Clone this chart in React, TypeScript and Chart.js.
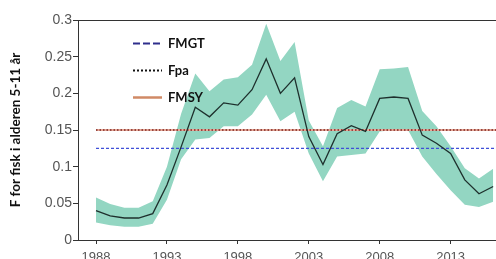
import React, { useEffect, useRef } from "react";
import { Chart, registerables } from "chart.js";

Chart.register(...registerables);

// ---------- data ----------
const years = [
  1988, 1989, 1990, 1991, 1992, 1993, 1994, 1995, 1996, 1997,
  1998, 1999, 2000, 2001, 2002, 2003, 2004, 2005, 2006, 2007,
  2008, 2009, 2010, 2011, 2012, 2013, 2014, 2015, 2016,
];
const fValues = [
  0.040, 0.033, 0.030, 0.030, 0.036, 0.075, 0.127, 0.181, 0.168, 0.187,
  0.184, 0.205, 0.247, 0.200, 0.221, 0.141, 0.103, 0.145, 0.156, 0.148,
  0.193, 0.195, 0.193, 0.143, 0.132, 0.118, 0.082, 0.063, 0.073,
];
const upperCI = [
  0.058, 0.049, 0.044, 0.044, 0.053, 0.100, 0.172, 0.227, 0.203, 0.219,
  0.222, 0.239, 0.295, 0.244, 0.270, 0.163, 0.128, 0.180, 0.191, 0.182,
  0.233, 0.234, 0.236, 0.176, 0.155, 0.128, 0.098, 0.084, 0.097,
];
const lowerCI = [
  0.024, 0.020, 0.018, 0.018, 0.022, 0.055, 0.110, 0.137, 0.139, 0.155,
  0.155, 0.171, 0.198, 0.162, 0.175, 0.118, 0.080, 0.114, 0.116, 0.118,
  0.148, 0.150, 0.150, 0.114, 0.090, 0.068, 0.048, 0.045, 0.052,
];
const refYears = [1988, 2017];
const fmgtValue = 0.125;
const fpaValue = 0.15;
const fmsyValue = 0.15;
const legendLabels = ["FMGT", "Fpa", "FMSY"];
const xTickValues = [1988, 1993, 1998, 2003, 2008, 2013];
const yTitle = "F for fisk i alderen 5-11 år";

// ---------- styles ----------
const legendStyles: Record<string, { color: string; dash: number[]; width: number }> = {
  FMGT: { color: "#2e2e8c", dash: [7, 3], width: 2 },
  Fpa: { color: "#111111", dash: [2, 2], width: 2 },
  FMSY: { color: "#d08a66", dash: [], width: 2.5 },
};

const insideLegend = {
  id: "insideLegend",
  afterDraw(chart: any) {
    const { ctx, chartArea } = chart;
    const x0 = chartArea.left + 55;
    const y0 = chartArea.top + 23.5;
    const gap = 27;
    ctx.save();
    legendLabels.forEach((label, i) => {
      const st = legendStyles[label];
      const y = y0 + i * gap;
      ctx.beginPath();
      ctx.setLineDash(st.dash);
      ctx.strokeStyle = st.color;
      ctx.lineWidth = st.width;
      ctx.moveTo(x0, y);
      ctx.lineTo(x0 + 29, y);
      ctx.stroke();
      ctx.setLineDash([]);
      ctx.fillStyle = "#111";
      ctx.font = "bold 13px Lato";
      ctx.textBaseline = "middle";
      ctx.textAlign = "left";
      ctx.fillText(label, x0 + 35, y);
    });
    ctx.restore();
  },
};

const topBorder = {
  id: "topBorder",
  afterDraw(chart: any) {
    const { ctx, chartArea } = chart;
    ctx.save();
    ctx.strokeStyle = "#333";
    ctx.lineWidth = 1;
    ctx.beginPath();
    ctx.moveTo(chartArea.left, chartArea.top + 0.5);
    ctx.lineTo(chartArea.right, chartArea.top + 0.5);
    ctx.stroke();
    ctx.restore();
  },
};

export default function App() {
  const ref = useRef<HTMLCanvasElement | null>(null);

  useEffect(() => {
    if (!ref.current) return;
    const pts = (vals: number[]) => years.map((y, i) => ({ x: y, y: vals[i] }));
    const ref2 = (v: number) => refYears.map((y) => ({ x: y, y: v }));
    const chart = new Chart(ref.current, {
      type: "line",
      data: {
        datasets: [
          {
            label: "upper",
            data: pts(upperCI),
            borderWidth: 0,
            pointRadius: 0,
            backgroundColor: "#93d6c2",
            fill: "+1",
            order: 6,
          },
          {
            label: "lower",
            data: pts(lowerCI),
            borderWidth: 0,
            pointRadius: 0,
            fill: false,
            order: 7,
          },
          {
            label: "F",
            data: pts(fValues),
            borderColor: "#1e302d",
            borderWidth: 1.3,
            pointRadius: 0,
            fill: false,
            order: 0,
          },
          {
            label: legendLabels[0],
            data: ref2(fmgtValue),
            borderColor: "#3f4fd8",
            borderDash: [3, 2],
            borderWidth: 1.2,
            pointRadius: 0,
            fill: false,
            order: 3,
          },
          {
            label: legendLabels[1],
            data: ref2(fpaValue),
            borderColor: "#7a2424",
            borderDash: [1.5, 2],
            borderWidth: 1.5,
            pointRadius: 0,
            fill: false,
            order: 1,
          },
          {
            label: legendLabels[2],
            data: ref2(fmsyValue),
            borderColor: "#e6a896",
            borderWidth: 2,
            pointRadius: 0,
            fill: false,
            order: 2,
          },
        ],
      },
      options: {
        responsive: false,
        animation: false,
        devicePixelRatio: 1,
        layout: { padding: { left: 0, top: 20, right: 0, bottom: 0 } },
        plugins: {
          legend: { display: false },
          tooltip: { enabled: false },
        },
        elements: { line: { tension: 0 } },
        scales: {
          x: {
            type: "linear",
            min: 1986.73,
            max: 2016.2,
            afterBuildTicks: (scale: any) => {
              scale.ticks = xTickValues.map((v) => ({ value: v }));
            },
            afterFit: (scale: any) => {
              scale.height = 19;
            },
            ticks: {
              color: "#555",
              font: { family: "Liberation Sans", size: 13 },
              padding: 6,
              maxRotation: 0,
              autoSkip: false,
              callback: (v: any) => String(v),
            },
            grid: {
              drawOnChartArea: false,
              drawTicks: true,
              tickLength: 4,
              color: "#333",
            },
            border: { display: true, color: "#333", width: 1 },
          },
          y: {
            min: 0,
            max: 0.3,
            afterFit: (scale: any) => {
              scale.width = 78;
            },
            ticks: {
              stepSize: 0.05,
              color: "#555",
              font: { family: "Liberation Sans", size: 14 },
              padding: 1,
              callback: (v: any) => String(+Number(v).toFixed(2)),
            },
            grid: {
              drawOnChartArea: false,
              drawTicks: true,
              tickLength: 5,
              color: "#333",
            },
            border: { display: true, color: "#333", width: 1 },
            title: {
              display: true,
              text: yTitle,
              color: "#111",
              font: { family: "Lato", size: 13.5, weight: "bold" },
              padding: { top: 7.5, bottom: 0 },
            },
          },
        },
      },
      plugins: [insideLegend, topBorder],
    });
    return () => chart.destroy();
  }, []);

  return (
    <div style={{ position: "fixed", left: 0, top: 0, width: 496, height: 259, background: "#fff" }}>
      <canvas ref={ref} width={496} height={259} />
    </div>
  );
}
